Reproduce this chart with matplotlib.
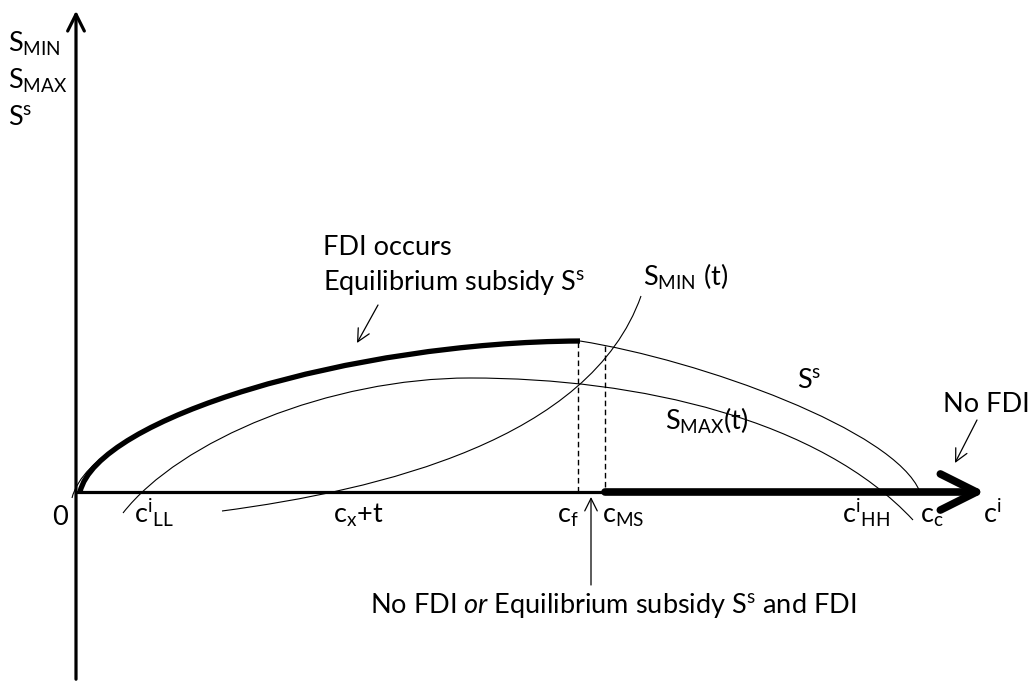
import matplotlib.pyplot as plt
from matplotlib.path import Path
from matplotlib.patches import PathPatch

plt.rcParams['font.family'] = ['Lato', 'DejaVu Sans']
plt.rcParams['mathtext.fontset'] = 'custom'
plt.rcParams['mathtext.rm'] = 'Lato'
plt.rcParams['mathtext.it'] = 'Lato:italic'

# diagram units: x to the right, y downwards (same frame as the page)
origin = (76, 492)
x_end = 985
y_top = 8
c_f = 578
c_ms = 605

# cubic Bezier control points for each schedule
ss_full = [(72, 498), (92, 418), (350, 341), (580, 341)]
ss_fdi = [(80, 492), (97, 418), (350, 342), (580, 341)]
ss_rest = [(580, 341), (700, 360), (895, 430), (920, 492)]
smax_left = [(123, 513), (180, 440), (330, 378), (470, 378)]
smax_right = [(470, 378), (640, 378), (820, 420), (913, 520)]
smin = [(222, 511), (380, 490), (590, 440), (641, 296)]

# heights of S^s at c_f and c_MS (top of the dashed guides)
ss_at_cf = 342
ss_at_cms = 346

axis_labels = [
    (r'$\mathrm{c}^{\mathrm{i}}{}_{\mathrm{LL}}$', 134),
    (r'$\mathrm{c}_{\mathrm{x}}\mathrm{+t}$', 333),
    (r'$\mathrm{c}_{\mathrm{f}}$', 557),
    (r'$\mathrm{c}_{\mathrm{MS}}$', 602),
    (r'$\mathrm{c}^{\mathrm{i}}{}_{\mathrm{HH}}$', 842),
    (r'$\mathrm{c}_{\mathrm{c}}$', 920),
    (r'$\mathrm{c}^{\mathrm{i}}$', 983),
]
y_labels = [r'$\mathrm{S}_{\mathrm{MIN}}$', r'$\mathrm{S}_{\mathrm{MAX}}$', r'$\mathrm{S}^{\mathrm{s}}$']

fig = plt.figure(figsize=(10.29, 6.82), dpi=100)
ax = fig.add_axes([0, 0, 1, 1])
ax.set_xlim(0, 1029)
ax.set_ylim(682, 0)
ax.axis('off')

def bezier(pts, lw, color='black'):
    codes = [Path.MOVETO, Path.CURVE4, Path.CURVE4, Path.CURVE4]
    ax.add_patch(PathPatch(Path(pts, codes), fill=False, lw=lw, edgecolor=color,
                           capstyle='butt'))

# axes
ax.annotate('', xy=(origin[0], y_top), xytext=(origin[0], 682),
            arrowprops=dict(arrowstyle='->,head_length=1.2,head_width=0.6',
                            lw=2.3, color='black', mutation_scale=10))
ax.plot([origin[0], c_ms], [origin[1], origin[1]], color='black', lw=2.3,
        solid_capstyle='butt')
ax.annotate('', xy=(x_end, origin[1]), xytext=(c_ms, origin[1]),
            arrowprops=dict(arrowstyle='->,head_length=2.6,head_width=1.3',
                            lw=5.5, color='black', mutation_scale=10,
                            shrinkA=0, shrinkB=0))

# schedules
bezier(ss_full, 0.8)
bezier(ss_fdi, 3.8)
bezier(ss_rest, 0.8)
bezier(smax_left, 0.8)
bezier(smax_right, 0.8)
bezier(smin, 0.8)

# dashed guides at c_f and c_MS
ax.plot([c_f, c_f], [ss_at_cf, origin[1]], color='black', lw=1, ls=(0, (4, 2.5)))
ax.plot([c_ms, c_ms], [ss_at_cms, origin[1]], color='black', lw=1, ls=(0, (4, 2.5)))

fs = 19.5
for i, lab in enumerate(y_labels):
    ax.text(8, 52 + 36.5 * i, lab, fontsize=fs, va='baseline')

ax.text(60, 525, '0', fontsize=fs, ha='center', va='baseline')
for lab, x in axis_labels:
    ax.text(x, 523, lab, fontsize=fs, va='baseline')

ax.text(323, 255, 'FDI occurs', fontsize=fs, va='baseline')
ax.text(323, 290, r'Equilibrium subsidy S$^{\mathrm{s}}$', fontsize=fs, va='baseline')
ax.text(643, 286, r'S$_{\mathrm{MIN}}$ (t)', fontsize=fs, va='baseline')
ax.text(797, 388, r'S$^{\mathrm{s}}$', fontsize=fs, va='baseline')
ax.text(665, 430, r'S$_{\mathrm{MAX}}$(t)', fontsize=fs, va='baseline')
ax.text(943, 412, 'No FDI', fontsize=fs, va='baseline')
ax.text(370, 613, r'No FDI $\mathit{or}$ Equilibrium subsidy S$^{\mathrm{s}}$ and FDI',
        fontsize=fs, va='baseline')

thin = dict(arrowstyle='->,head_length=0.9,head_width=0.45', lw=0.9,
            color='black', mutation_scale=10, shrinkA=0, shrinkB=0)
ax.annotate('', xy=(357, 343), xytext=(378, 305), arrowprops=thin)
ax.annotate('', xy=(955, 463), xytext=(977, 420), arrowprops=thin)
ax.annotate('', xy=(591, 497), xytext=(591, 585), arrowprops=thin)

fig.savefig('out.png', dpi=100)
